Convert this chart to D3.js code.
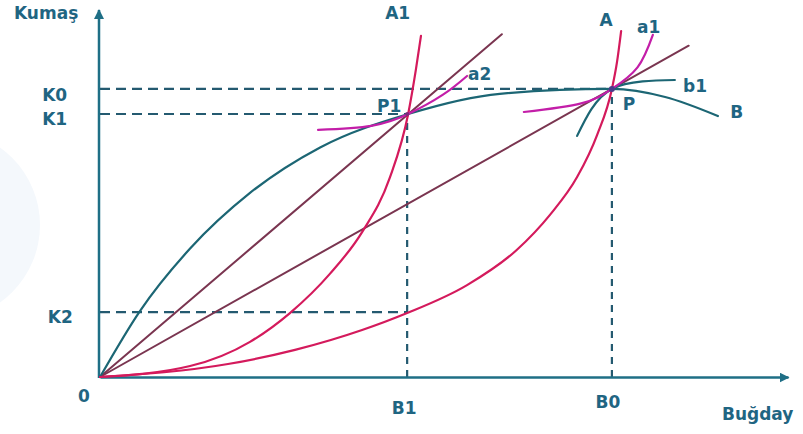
<!DOCTYPE html>
<html><head><meta charset="utf-8">
<script src="https://cdn.jsdelivr.net/npm/d3@7"></script>
<style>body{margin:0;background:#fff}svg{display:block}text{font-family:"DejaVu Sans",sans-serif;font-weight:bold;fill:#1f6582}</style>
</head><body><svg id="c" width="803" height="434"></svg>
<script>
// Data (x = Buğday, y = Kumaş, arbitrary units)
const B1 = 6.0, B0 = 10.0, K0 = 10.0, K1 = 9.13, K2 = 2.25;
const ppfB = [[0,0],[0.78,2.29],[1.76,4.46],[2.93,6.39],[4.3,7.97],[6.02,9.13],[7.81,9.83],[10,10],[11.04,9.72],[12.07,9.06]];
const curveA1 = [[0,0],[1.76,0.38],[2.93,1.22],[3.71,2.22],[4.49,3.58],[5.12,5.03],[5.66,6.91],[6.02,9.13],[6.17,10.66],[6.27,11.84]];
const curveA = [[0,0],[2.5,0.45],[3.81,0.94],[5.12,1.63],[6.0,2.22],[7.17,3.19],[8.14,4.41],[8.79,5.63],[9.32,6.94],[9.71,8.4],[10,10],[10.1,10.94],[10.18,12.01]];
const ray1 = [[0,0],[7.85,11.9]];
const ray2 = [[0,0],[11.5,11.5]];
const curveA2 = [[4.26,8.58],[5.3,8.72],[6.02,9.13],[6.7,9.8],[7.17,10.45]];
const curveAa1 = [[8.28,9.2],[9.4,9.5],[10,10],[10.5,10.75],[10.8,11.88]];
const curveB1 = [[9.32,8.37],[9.6,9.3],[10,10],[10.6,10.26],[11.23,10.31]];
const labels = [
  ["Kumaş",-1.68,12.43],["K0",-1.13,9.58],["K1",-1.13,8.75],["K2",-1.02,1.87],["0",-0.43,-0.87],
  ["B1",5.7,-1.28],["B0",9.68,-1.08],["Buğday",12.15,-1.49],
  ["A1",5.57,12.44],["A",9.76,12.18],["a1",10.49,11.94],["a2",7.19,10.31],
  ["P1",5.41,9.2],["P",10.21,9.27],["b1",11.39,9.89],["B",12.31,9.0]
];

const svg = d3.select("#c");
// faint watermark
svg.append("circle").attr("cx",-55).attr("cy",225).attr("r",95).attr("fill","#f4f8fc");

const x = d3.scaleLinear().domain([0,13.44]).range([100,788]);
const y = d3.scaleLinear().domain([0,12.74]).range([377,10]);
const axisCol = "#1f6f86";

// dashed guides
const dash = svg.append("g").attr("stroke","#245a70").attr("stroke-width",2.2).attr("stroke-dasharray","10,6").attr("fill","none");
[[0,K0,B0,K0],[0,K1,B1,K1],[0,K2,B1,K2]].forEach(d=>dash.append("line").attr("x1",x(d[0])).attr("y1",y(d[1])).attr("x2",x(d[2])).attr("y2",y(d[3])));
[[B1,K1],[B0,K0]].forEach(d=>dash.append("line").attr("x1",x(d[0])).attr("y1",y(0)).attr("x2",x(d[0])).attr("y2",y(d[1])).attr("stroke-dasharray","7,6"));

// axes
svg.append("defs").append("marker").attr("id","ar").attr("viewBox","0 0 10 10").attr("refX",9).attr("refY",5)
  .attr("markerWidth",4).attr("markerHeight",4).attr("orient","auto")
  .append("path").attr("d","M0,0L10,5L0,10z").attr("fill",axisCol);
const xa = svg.append("g").attr("transform",`translate(0,${y(0)})`).call(d3.axisBottom(x).tickValues([]).tickSizeOuter(0));
xa.select(".domain").attr("stroke",axisCol).attr("stroke-width",2.5).attr("marker-end","url(#ar)");
const ya = svg.append("g").attr("transform",`translate(${x(0)-1},0)`).call(d3.axisLeft(y).tickValues([]).tickSizeOuter(0));
ya.select(".domain").attr("stroke",axisCol).attr("stroke-width",2.5).attr("d",`M0,${y(0)+1}V${y(12.74)}`).attr("marker-end","url(#ar)");

const lineM = d3.line().x(d=>x(d[0])).y(d=>y(d[1])).curve(d3.curveMonotoneX);
const lineN = d3.line().x(d=>x(d[0])).y(d=>y(d[1])).curve(d3.curveNatural);
function draw(data,col,w,gen){svg.append("path").datum(data).attr("d",gen).attr("fill","none").attr("stroke",col).attr("stroke-width",w).attr("stroke-linecap","round");}
draw(ray1,"#7a3550",2,lineN);
draw(ray2,"#7a3550",2,lineN);
draw(ppfB,"#1c6674",2.2,lineM);
draw(curveB1,"#1c6674",2.2,lineN);
draw(curveA,"#d41a5c",2.2,lineM);
draw(curveA1,"#d41a5c",2.2,lineM);
draw(curveA2,"#c31ea8",2.2,lineN);
draw(curveAa1,"#c31ea8",2.2,lineN);
svg.append("circle").attr("cx",x(B0)).attr("cy",y(K0)).attr("r",3).attr("fill","#4a3a8a");
svg.append("circle").attr("cx",x(B1)).attr("cy",y(K1)).attr("r",2).attr("fill","#7a2a7a");

svg.append("g").selectAll("text").data(labels).join("text")
  .attr("x",d=>x(d[1])).attr("y",d=>y(d[2])).attr("font-size",17).text(d=>d[0]);
</script></body></html>
